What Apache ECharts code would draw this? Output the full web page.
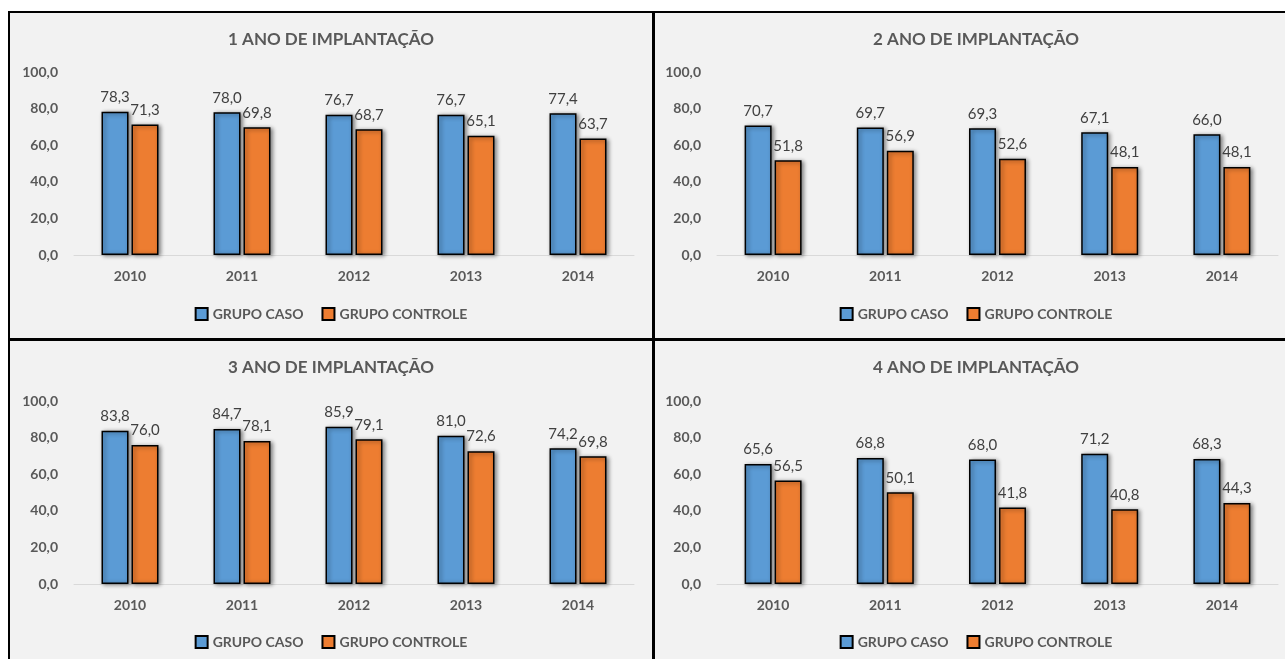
<!DOCTYPE html>
<html>
<head>
<meta charset="utf-8">
<script src="https://cdn.jsdelivr.net/npm/echarts@6/dist/echarts.min.js"></script>
<style>
  html, body { margin: 0; padding: 0; background: #ffffff; overflow: hidden; width: 1285px; height: 659px; }
  #frame { position: absolute; left: 8px; top: 11px; width: 1300px; height: 660px; background: #000; }
  .panel { position: absolute; background: #f2f2f2; width: 642px; height: 325px; }
</style>
</head>
<body>
<div id="frame"></div>
<div class="panel" id="p1" style="left:10px; top:13px;"></div>
<div class="panel" id="p2" style="left:655px; top:13px;"></div>
<div class="panel" id="p3" style="left:10px; top:341px;"></div>
<div class="panel" id="p4" style="left:655px; top:341px;"></div>
<script>
const categories = ['2010', '2011', '2012', '2013', '2014'];
const seriesNames = ['GRUPO CASO', 'GRUPO CONTROLE'];
const titles = ['1 ANO DE IMPLANTAÇÃO', '2 ANO DE IMPLANTAÇÃO', '3 ANO DE IMPLANTAÇÃO', '4 ANO DE IMPLANTAÇÃO'];

const caso1 = [78.3, 78.0, 76.7, 76.7, 77.4];
const controle1 = [71.3, 69.8, 68.7, 65.1, 63.7];
const caso2 = [70.7, 69.7, 69.3, 67.1, 66.0];
const controle2 = [51.8, 56.9, 52.6, 48.1, 48.1];
const caso3 = [83.8, 84.7, 85.9, 81.0, 74.2];
const controle3 = [76.0, 78.1, 79.1, 72.6, 69.8];
const caso4 = [65.6, 68.8, 68.0, 71.2, 68.3];
const controle4 = [56.5, 50.1, 41.8, 40.8, 44.3];

const colors = ['#5b9bd5', '#ed7d31'];
const FONT = 'Lato, "Open Sans", "DejaVu Sans", sans-serif';
const fmt = v => Number(v).toFixed(1).replace('.', ',');

const panels = [
  { id: 'p1', title: titles[0], caso: caso1, controle: controle1, top: 59, bottom: 83, left: 64, right: 18 },
  { id: 'p2', title: titles[1], caso: caso2, controle: controle2, top: 59, bottom: 83, left: 62, right: 19 },
  { id: 'p3', title: titles[2], caso: caso3, controle: controle3, top: 60, bottom: 82, left: 64, right: 18 },
  { id: 'p4', title: titles[3], caso: caso4, controle: controle4, top: 60, bottom: 82, left: 62, right: 19 }
];

function makeSeries(name, data, color) {
  return {
    name: name,
    type: 'bar',
    data: data,
    barWidth: 27,
    barGap: '11%',
    itemStyle: {
      color: color,
      borderColor: '#000',
      borderWidth: 1.5,
      shadowColor: 'rgba(0,0,0,0.45)',
      shadowBlur: 4,
      shadowOffsetX: 2,
      shadowOffsetY: 1
    },
    label: {
      show: true,
      position: 'top',
      distance: 7,
      formatter: p => fmt(p.value),
      fontFamily: FONT,
      fontSize: 15,
      color: '#404040'
    },
    emphasis: { disabled: true },
    animation: false
  };
}

panels.forEach(p => {
  const chart = echarts.init(document.getElementById(p.id), null, { renderer: 'canvas' });
  chart.setOption({
    backgroundColor: '#f2f2f2',
    animation: false,
    title: {
      text: p.title,
      left: 'center',
      top: 13,
      textStyle: { fontFamily: FONT, fontSize: 17, fontWeight: 'bold', color: '#595959' }
    },
    legend: {
      data: seriesNames,
      bottom: 12,
      left: 'center',
      icon: 'rect',
      itemWidth: 12,
      itemHeight: 12,
      itemGap: 18,
      textStyle: { fontFamily: FONT, fontSize: 14, fontWeight: 'bold', color: '#595959' }
    },
    grid: { left: p.left, right: p.right, top: p.top, bottom: p.bottom, containLabel: false },
    xAxis: {
      type: 'category',
      data: categories,
      axisLine: { show: true, lineStyle: { color: '#d9d9d9', width: 1 } },
      axisTick: { show: false },
      axisLabel: { margin: 14, fontFamily: FONT, fontSize: 14, fontWeight: 'bold', color: '#595959' }
    },
    yAxis: {
      type: 'value',
      min: 0,
      max: 100,
      interval: 20,
      splitLine: { show: false },
      axisLine: { show: false },
      axisTick: { show: false },
      axisLabel: { margin: 16, formatter: v => fmt(v), fontFamily: FONT, fontSize: 14, fontWeight: 'bold', color: '#595959' }
    },
    series: [
      makeSeries(seriesNames[0], p.caso, colors[0]),
      makeSeries(seriesNames[1], p.controle, colors[1])
    ]
  });
});
</script>
</body>
</html>
